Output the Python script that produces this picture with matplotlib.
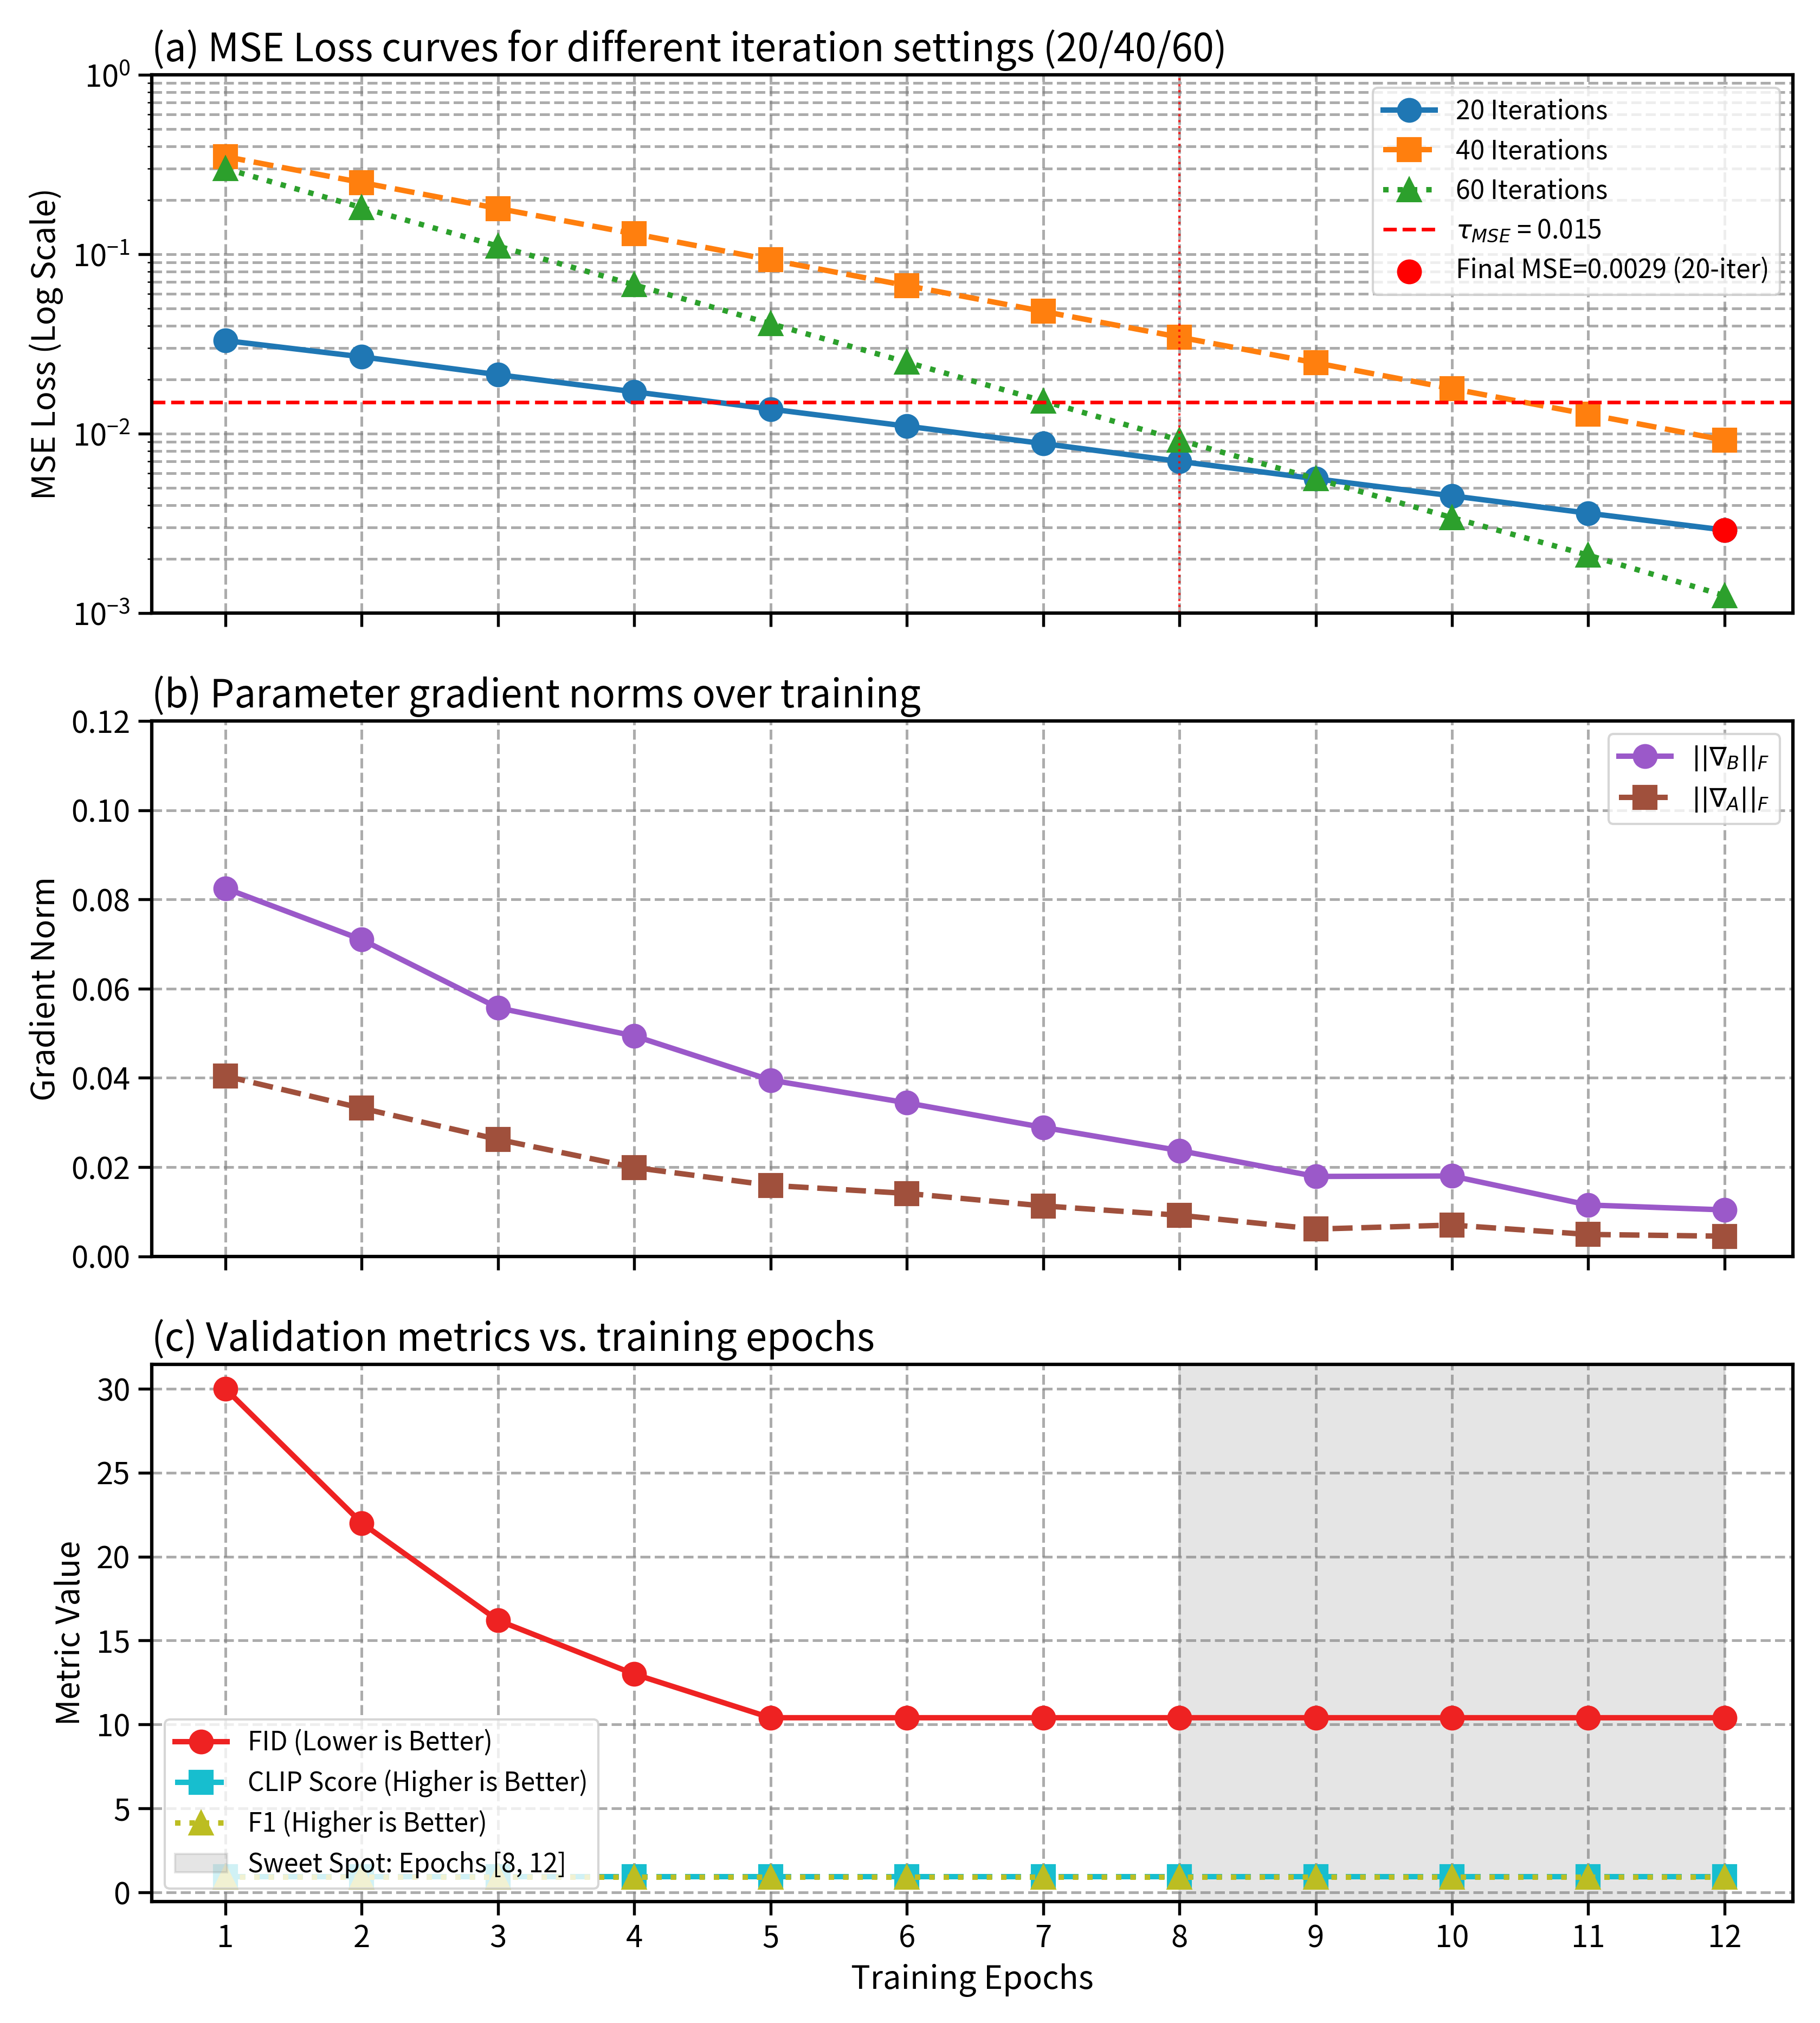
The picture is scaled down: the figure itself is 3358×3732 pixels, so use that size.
import matplotlib
matplotlib.use("Agg")
import matplotlib.pyplot as plt
import numpy as np

plt.rcParams['font.family'] = ['Noto Sans CJK SC', 'DejaVu Sans']
plt.rcParams['mathtext.fontset'] = 'dejavusans'

epochs = [1, 2, 3, 4, 5, 6, 7, 8, 9, 10, 11, 12]

mse_20 = [0.0330, 0.0268, 0.0213, 0.0171, 0.0137, 0.0110, 0.0088, 0.0070, 0.0056, 0.0045, 0.0036, 0.0029]
mse_40 = [0.350, 0.251, 0.180, 0.130, 0.0930, 0.0668, 0.0480, 0.0345, 0.0248, 0.0178, 0.0128, 0.0092]
mse_60 = [0.300, 0.182, 0.111, 0.0675, 0.0410, 0.0250, 0.0152, 0.0092, 0.0056, 0.0034, 0.0021, 0.00125]
tau_mse = 0.015
final_mse = 0.0029

grad_B = [0.0825, 0.0710, 0.0557, 0.0494, 0.0395, 0.0344, 0.0289, 0.0237, 0.0179, 0.0180, 0.0115, 0.0104]
grad_A = [0.0404, 0.0332, 0.0262, 0.0199, 0.0159, 0.0141, 0.0113, 0.0092, 0.0061, 0.0070, 0.0049, 0.0045]

fid = [30.0, 22.0, 16.2, 13.0, 10.4, 10.4, 10.4, 10.4, 10.4, 10.4, 10.4, 10.4]
clip = [0.93, 0.93, 0.93, 0.93, 0.93, 0.93, 0.93, 0.93, 0.93, 0.93, 0.93, 0.93]
f1 = [0.90, 0.90, 0.90, 0.90, 0.90, 0.90, 0.90, 0.90, 0.90, 0.90, 0.90, 0.90]
sweet_spot = (8, 12)

W, H, DPI = 3358, 3732, 300
fig = plt.figure(figsize=(W / DPI, H / DPI), dpi=DPI)

L, R = 0.0834, 0.985
ax1 = fig.add_axes([L, 0.697, R - L, 0.963 - 0.697])
ax2 = fig.add_axes([L, 0.379, R - L, 0.6436 - 0.379], sharex=ax1)
ax3 = fig.add_axes([L, 0.060, R - L, 0.3256 - 0.060], sharex=ax1)

TITLE_FS = 17
LABEL_FS = 14.3
TICK_FS = 13.5
LEG_FS = 11.5
MS = 10
LW = 2.4

grid_kw = dict(color='gray', linestyle='--', alpha=0.65, linewidth=1.2)

for ax in (ax1, ax2, ax3):
    for s in ax.spines.values():
        s.set_linewidth(1.5)
        s.set_color('black')
    ax.tick_params(labelsize=TICK_FS, width=1.3, length=6)

# (a)
ax1.plot(epochs, mse_20, '-o', color='#1f77b4', lw=LW, ms=MS, label='20 Iterations')
ax1.plot(epochs, mse_40, '--s', color='#ff7f0e', lw=LW, ms=MS, label='40 Iterations')
ax1.plot(epochs, mse_60, ':^', color='#2ca02c', lw=LW, ms=MS, label='60 Iterations')
ax1.axhline(tau_mse, color='red', linestyle='--', lw=1.6, label=r'$\tau_{MSE}$ = 0.015')
ax1.axvline(8, color='red', linestyle=':', lw=1.0, alpha=0.8)
ax1.scatter([epochs[-1]], [final_mse], s=100, color='red', zorder=5,
            label='Final MSE=0.0029 (20-iter)')
ax1.set_yscale('log')
ax1.set_ylim(1e-3, 1)
ax1.set_xlim(0.46, 12.5)
ax1.grid(True, which='both', **grid_kw)
ax1.set_ylabel('MSE Loss (Log Scale)', fontsize=LABEL_FS)
ax1.set_title('(a) MSE Loss curves for different iteration settings (20/40/60)',
              loc='left', fontsize=TITLE_FS)
ax1.legend(loc='upper right', fontsize=LEG_FS, framealpha=0.8)
plt.setp(ax1.get_xticklabels(), visible=False)

# (b)
ax2.plot(epochs, grad_B, '-o', color='#9b59c9', lw=LW, ms=MS, label=r'$||\nabla_B||_F$')
ax2.plot(epochs, grad_A, '--s', color='#a0503c', lw=LW, ms=MS, label=r'$||\nabla_A||_F$')
ax2.set_ylim(0, 0.12)
ax2.set_yticks([0.00, 0.02, 0.04, 0.06, 0.08, 0.10, 0.12])
ax2.yaxis.set_major_formatter(matplotlib.ticker.FormatStrFormatter('%.2f'))
ax2.grid(True, **grid_kw)
ax2.set_ylabel('Gradient Norm', fontsize=LABEL_FS)
ax2.set_title('(b) Parameter gradient norms over training', loc='left', fontsize=TITLE_FS)
ax2.legend(loc='upper right', fontsize=LEG_FS, framealpha=0.8)
plt.setp(ax2.get_xticklabels(), visible=False)

# (c)
ax3.plot(epochs, fid, '-o', color='#ee2222', lw=LW, ms=MS, label='FID (Lower is Better)')
ax3.plot(epochs, clip, '--s', color='#17becf', lw=LW, ms=MS, label='CLIP Score (Higher is Better)')
ax3.plot(epochs, f1, ':^', color='#bcbd22', lw=LW, ms=MS, label='F1 (Higher is Better)')
ax3.axvspan(sweet_spot[0], sweet_spot[1], color='gray', alpha=0.2,
            label='Sweet Spot: Epochs [8, 12]')
ax3.grid(True, **grid_kw)
ax3.set_ylabel('Metric Value', fontsize=LABEL_FS)
ax3.set_xlabel('Training Epochs', fontsize=LABEL_FS)
ax3.set_title('(c) Validation metrics vs. training epochs', loc='left', fontsize=TITLE_FS)
ax3.set_xticks(epochs)
ax3.set_xlim(0.46, 12.5)
ax3.legend(loc='lower left', fontsize=LEG_FS, framealpha=0.8)

fig.savefig('out.png', dpi=DPI)
